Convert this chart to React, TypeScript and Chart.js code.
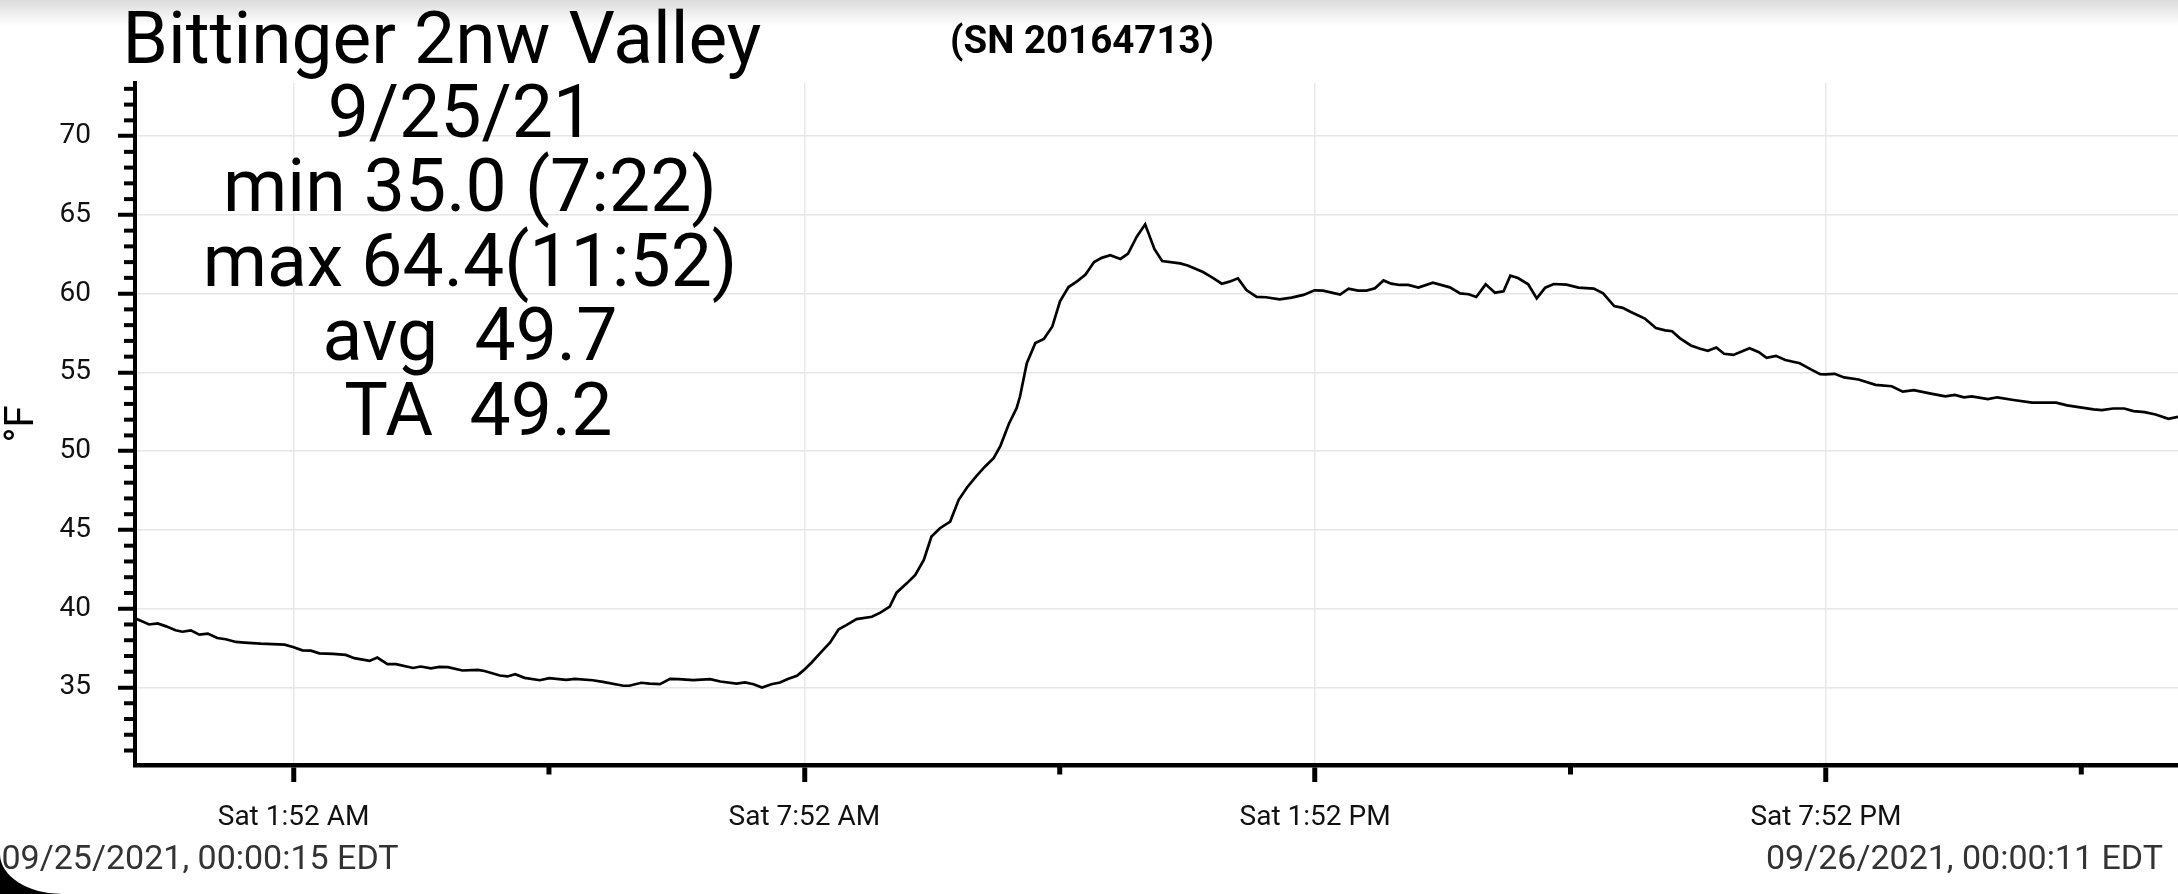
import React, { useEffect, useRef } from 'react';
import { Chart, registerables } from 'chart.js';

Chart.register(...registerables);

// ---- data (hours after midnight, 09/25/2021) ----
const sampleHours = [
  0.004, 0.17, 0.27, 0.37, 0.48, 0.56, 0.66, 0.76, 0.86, 0.97, 1.07, 1.19, 1.29, 1.48, 1.76, 1.86, 1.97, 2.07, 2.17, 2.33,
  2.48, 2.58, 2.76, 2.85, 2.97, 3.07, 3.27, 3.36, 3.48, 3.58, 3.68, 3.85, 4.03, 4.11, 4.29, 4.38, 4.47, 4.58, 4.76, 4.87,
  5.07, 5.17, 5.38, 5.5, 5.74, 5.81, 5.95, 6.05, 6.17, 6.29, 6.39, 6.56, 6.76, 6.88, 7.07, 7.17, 7.27, 7.37, 7.48, 7.58,
  7.68, 7.78, 7.86, 7.95, 8.05, 8.17, 8.27, 8.36, 8.48, 8.66, 8.76, 8.87, 8.95, 9.07, 9.17, 9.27, 9.36, 9.46, 9.58, 9.68,
  9.78, 9.89, 9.99, 10.09, 10.17, 10.27, 10.36, 10.4, 10.48, 10.58, 10.68, 10.78, 10.87, 10.97, 11.07, 11.17, 11.27, 11.36, 11.46, 11.58,
  11.67, 11.77, 11.87, 11.98, 12.07, 12.28, 12.37, 12.55, 12.67, 12.77, 12.86, 12.96, 13.06, 13.18, 13.29, 13.45, 13.59, 13.73, 13.86, 13.96,
  14.16, 14.26, 14.37, 14.47, 14.57, 14.67, 14.76, 14.86, 14.96, 15.08, 15.25, 15.45, 15.57, 15.67, 15.76, 15.87, 15.98, 16.08, 16.16, 16.25,
  16.37, 16.47, 16.57, 16.67, 16.82, 16.96, 17.14, 17.25, 17.38, 17.48, 17.57, 17.74, 17.87, 17.98, 18.06, 18.15, 18.28, 18.39, 18.48, 18.58,
  18.67, 18.78, 18.97, 19.08, 19.17, 19.28, 19.39, 19.56, 19.69, 19.8, 19.86, 19.97, 20.08, 20.25, 20.45, 20.64, 20.77, 20.9, 21.1, 21.27,
  21.38, 21.49, 21.58, 21.77, 21.88, 22.07, 22.29, 22.57, 22.7, 23.01, 23.11, 23.24, 23.37, 23.48, 23.61, 23.74, 23.89, 24.003,
];

const tempF = [
  39.4, 39.0, 39.07, 38.88, 38.63, 38.54, 38.63, 38.35, 38.42, 38.14, 38.06, 37.89, 37.85, 37.78, 37.72, 37.57, 37.36, 37.34, 37.17, 37.13,
  37.07, 36.86, 36.69, 36.9, 36.48, 36.48, 36.24, 36.33, 36.22, 36.31, 36.29, 36.08, 36.12, 36.05, 35.76, 35.7, 35.84, 35.61, 35.46, 35.59,
  35.49, 35.55, 35.46, 35.36, 35.11, 35.11, 35.3, 35.25, 35.21, 35.55, 35.53, 35.47, 35.53, 35.38, 35.25, 35.32, 35.21, 35.0, 35.21, 35.32,
  35.55, 35.74, 36.1, 36.57, 37.16, 37.86, 38.69, 38.96, 39.34, 39.49, 39.75, 40.13, 41.02, 41.61, 42.14, 43.09, 44.58, 45.11, 45.53, 46.91,
  47.71, 48.43, 49.03, 49.56, 50.34, 51.74, 52.73, 53.47, 55.59, 56.86, 57.12, 57.92, 59.51, 60.42, 60.78, 61.21, 62.01, 62.27, 62.44, 62.2,
  62.54, 63.6, 64.4, 62.82, 62.07, 61.92, 61.79, 61.37, 60.99, 60.63, 60.76, 60.97, 60.23, 59.79, 59.77, 59.64, 59.75, 59.92, 60.21, 60.19,
  59.94, 60.32, 60.19, 60.19, 60.34, 60.84, 60.63, 60.55, 60.55, 60.38, 60.7, 60.4, 60.02, 59.96, 59.79, 60.59, 60.06, 60.15, 61.14, 60.99,
  60.59, 59.7, 60.38, 60.61, 60.57, 60.38, 60.32, 60.02, 59.21, 59.1, 58.85, 58.42, 57.82, 57.67, 57.61, 57.18, 56.71, 56.5, 56.37, 56.58,
  56.18, 56.11, 56.54, 56.28, 55.92, 56.05, 55.79, 55.58, 55.19, 54.89, 54.87, 54.91, 54.68, 54.55, 54.21, 54.12, 53.78, 53.87, 53.65, 53.48,
  53.57, 53.42, 53.48, 53.31, 53.42, 53.25, 53.08, 53.08, 52.91, 52.65, 52.61, 52.71, 52.71, 52.54, 52.48, 52.33, 52.05, 52.18,
];

const xTickHours = [1.8667, 4.8667, 7.8667, 10.8667, 13.8667, 16.8667, 19.8667, 22.8667];
const xTickLabels = ['Sat 1:52 AM', '', 'Sat 7:52 AM', '', 'Sat 1:52 PM', '', 'Sat 7:52 PM', ''];
const yTickValues = [
  31, 32, 33, 34, 35, 36, 37, 38, 39, 40, 41, 42, 43, 44, 45, 46, 47, 48, 49, 50, 51, 52,
  53, 54, 55, 56, 57, 58, 59, 60, 61, 62, 63, 64, 65, 66, 67, 68, 69, 70, 71, 72, 73,
];
const yLabelValues = [35, 40, 45, 50, 55, 60, 65, 70];

const stationName = 'Bittinger 2nw Valley';
const serialText = '(SN 20164713)';
const statLines = ['9/25/21 ', 'min 35.0 (7:22)', 'max 64.4(11:52)', 'avg  49.7', ' TA  49.2'];
const startStamp = '09/25/2021, 00:00:15 EDT';
const endStamp = '09/26/2021, 00:00:11 EDT';
const yTitle = '°F';

const X_MIN = 0.004;
const X_MAX = 24.003;
const Y_MIN = 30.08;
const Y_MAX = 73.37;

const FONT = 'Roboto';

const minorTicksPlugin = {
  id: 'minorTicks',
  afterDraw(chart: any) {
    const ctx = chart.ctx;
    const ys = chart.scales.y;
    const xs = chart.scales.x;
    ctx.save();
    ctx.strokeStyle = '#000';
    ctx.lineWidth = 4;
    ys.ticks.forEach((t: any) => {
      if (yLabelValues.includes(t.value)) return;
      const py = ys.getPixelForValue(t.value);
      ctx.beginPath();
      ctx.moveTo(ys.right - 11, py);
      ctx.lineTo(ys.right, py);
      ctx.stroke();
    });
    ctx.lineWidth = 5;
    xs.ticks.forEach((t: any, i: number) => {
      if (xTickLabels[i]) return;
      const px = xs.getPixelForValue(t.value);
      ctx.beginPath();
      ctx.moveTo(px, xs.top);
      ctx.lineTo(px, xs.top + 9.5);
      ctx.stroke();
    });
    ctx.restore();
  },
};

function TempChart() {
  const ref = useRef<HTMLCanvasElement | null>(null);
  useEffect(() => {
    if (!ref.current) return;
    const points = sampleHours.map((h, i) => ({ x: h, y: tempF[i] }));
    const chart = new Chart(ref.current, {
      type: 'line',
      data: {
        datasets: [
          {
            data: points,
            borderColor: '#000',
            borderWidth: 2.7,
            pointRadius: 0,
            tension: 0,
            fill: false,
          },
        ],
      },
      options: {
        animation: false,
        responsive: true,
        maintainAspectRatio: false,
        layout: { padding: { top: 83, right: 0, left: 0, bottom: 0 } },
        plugins: { legend: { display: false }, tooltip: { enabled: false }, title: { display: false } },
        scales: {
          x: {
            type: 'linear',
            min: X_MIN,
            max: X_MAX,
            afterBuildTicks: (scale: any) => {
              scale.ticks = xTickHours.map((v) => ({ value: v }));
            },
            afterFit: (scale: any) => {
              scale.height = 129;
            },
            ticks: {
              autoSkip: false,
              maxRotation: 0,
              minRotation: 0,
              padding: 19,
              color: '#111',
              font: { family: FONT, size: 28 },
              callback: (_v: any, i: number) => xTickLabels[i],
            },
            grid: {
              color: (c: any) => (xTickLabels[c.index] ? '#e9e9e9' : 'transparent'),
              lineWidth: 1.5,
              tickLength: 17,
              tickWidth: 5,
              tickColor: (c: any) => (xTickLabels[c.index] ? '#000' : 'transparent'),
            },
            border: { display: true, color: '#000', width: 4.5 },
          },
          y: {
            type: 'linear',
            min: Y_MIN,
            max: Y_MAX,
            afterBuildTicks: (scale: any) => {
              scale.ticks = yTickValues.map((v) => ({ value: v }));
            },
            afterFit: (scale: any) => {
              scale.width = 135;
            },
            ticks: {
              autoSkip: false,
              padding: 27,
              color: '#111',
              font: { family: FONT, size: 28 },
              callback: (v: any) => (yLabelValues.includes(v) ? String(v) : ''),
            },
            grid: {
              color: (c: any) => (c.tick && yLabelValues.includes(c.tick.value) ? '#e6e6e6' : 'transparent'),
              lineWidth: 1.5,
              tickLength: 17,
              tickWidth: 4,
              tickColor: (c: any) => (c.tick && yLabelValues.includes(c.tick.value) ? '#000' : 'transparent'),
            },
            border: { display: true, color: '#000', width: 4 },
            title: {
              display: true,
              text: yTitle,
              color: '#000',
              font: { family: FONT, size: 40, lineHeight: 0.9 },
              padding: { top: 5, bottom: 0 },
            },
          },
        },
      },
      plugins: [minorTicksPlugin],
    } as any);
    return () => chart.destroy();
  }, []);
  return <canvas ref={ref} style={{ position: 'absolute', left: 0, top: 0, width: '100%', height: '100%' }} />;
}

export default function App() {
  const base: React.CSSProperties = { position: 'absolute', fontFamily: FONT, whiteSpace: 'pre', pointerEvents: 'none' };
  return (
    <div style={{ position: 'fixed', left: 0, top: 0, width: 2178, height: 894, background: '#fff', overflow: 'hidden' }}>
      <div
        style={{
          position: 'absolute',
          left: 0,
          top: 0,
          width: '100%',
          height: 26,
          background: 'linear-gradient(#dcdcdc, rgba(255,255,255,0))',
        }}
      />
      <TempChart />
      <div style={{ ...base, left: 122.5, top: 2, fontSize: 73, lineHeight: '73px', color: '#000' }}>{stationName}</div>
      <div style={{ ...base, left: 950, top: 21, fontSize: 38.5, lineHeight: '38.5px', fontWeight: 700, color: '#000' }}>
        {serialText}
      </div>
      <div
        style={{
          ...base,
          left: 70,
          width: 800,
          top: 74.5,
          textAlign: 'center',
          fontSize: 73.3,
          lineHeight: '74.6px',
          color: '#000',
        }}
      >
        {statLines.map((s, i) => (
          <div key={i}>{s}</div>
        ))}
      </div>
      <div
        style={{
          position: 'absolute',
          left: 0,
          bottom: 0,
          width: 62,
          height: 40,
          background: '#000',
        }}
      >
        <div style={{ width: '100%', height: '100%', background: '#fff', borderBottomLeftRadius: '62px 40px' }} />
      </div>
      <div style={{ ...base, left: 1.5, top: 840.4, fontSize: 34, lineHeight: '34px', color: '#333' }}>{startStamp}</div>
      <div style={{ ...base, right: 15, top: 840.4, fontSize: 34, lineHeight: '34px', color: '#333', textAlign: 'right' }}>
        {endStamp}
      </div>
    </div>
  );
}
